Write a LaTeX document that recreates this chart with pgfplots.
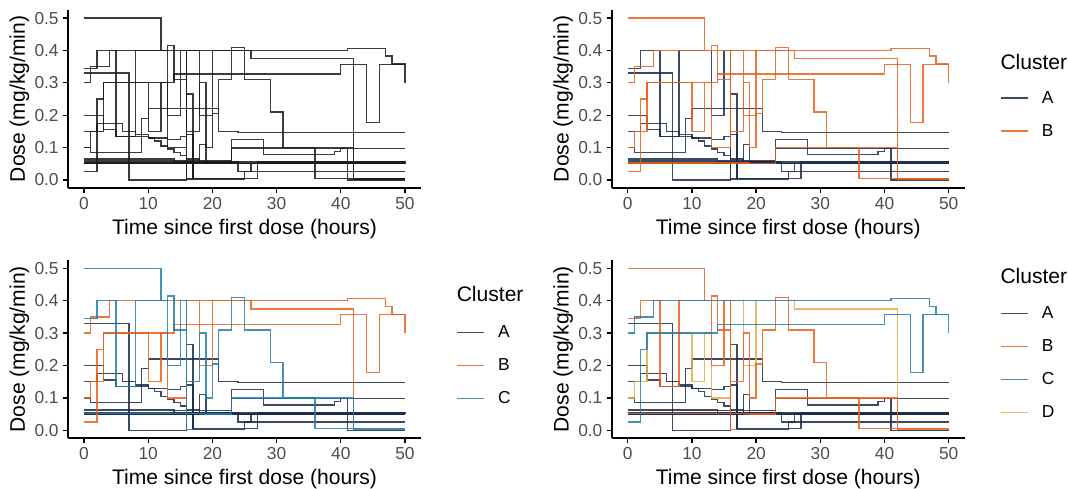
\documentclass[border=0pt]{standalone}
\usepackage{fontspec}
\setmainfont{Liberation Sans}
\usepackage{pgfplots}
\usepackage{pgfplotstable}
\pgfplotsset{compat=1.18}

\definecolor{cA}{RGB}{27,42,72}
\definecolor{cB}{RGB}{232,96,28}
\definecolor{cC}{RGB}{35,125,170}
\definecolor{cD}{RGB}{230,172,70}
\definecolor{cK}{RGB}{25,25,25}
\definecolor{tickgray}{RGB}{77,77,77}

% one table per infusion trajectory (time in hours, dose), step at each time
\pgfplotstableread{
x y
0 0.5
12 0.4
13 0.415
14 0.31
16 0.15
18 0.3
19 0.1
20 0.205
21 0.31
23 0.41
25 0.31
29 0.21
31 0.1
36 0.005
50 0.005
}\tA
\pgfplotstableread{
x y
0 0.3
1 0.35
4 0.4
41 0.407
47 0.383
48 0.358
50 0.3
}\tB
\pgfplotstableread{
x y
0 0.025
2 0.25
3 0.3
14 0.327
40 0.357
44 0.178
46 0.357
50 0.357
}\tC
\pgfplotstableread{
x y
0 0.1
1 0.15
3 0.3
10 0.15
12 0.3
13 0.1
16 0.4
18 0.2
20 0.4
26 0.375
42 0.005
50 0.005
}\tD
\pgfplotstableread{
x y
0 0.345
2 0.4
5 0.135
8 0.4
13 0.2
15 0.4
16 0.003
17 0.003
}\tE
\pgfplotstableread{
x y
0 0.33
7 0.0
16 0.265
17 0.003
25 0.025
50 0.025
}\tF
\pgfplotstableread{
x y
0 0.15
2 0.175
6 0.15
8 0.14
10 0.13
11 0.12
12 0.105
13 0.095
14 0.085
15 0.075
16 0.065
18 0.055
50 0.05
}\tG
\pgfplotstableread{
x y
0 0.2
3 0.155
5 0.135
10 0.13
13 0.125
15 0.135
16 0.14
17 0.005
25 0.005
27 0.055
50 0.055
}\tH
\pgfplotstableread{
x y
0 0.1
1 0.085
9 0.19
10 0.22
21 0.15
24 0.147
50 0.147
}\tI
\pgfplotstableread{
x y
0 0.065
14 0.055
23 0.125
28 0.078
39 0.088
40 0.098
41 0.0
50 0.0
}\tJ
\pgfplotstableread{
x y
0 0.055
24 0.025
26 0.05
50 0.05
}\tK
\pgfplotstableread{
x y
0 0.05
50 0.05
}\tL
\pgfplotstableread{
x y
0 0.06
23 0.098
50 0.098
}\tM
\pgfplotstableread{
x y
0 0.052
19 0.05
23 0.1
41 0.1
42 0.003
50 0.003
}\tN
\pgfplotstableread{
x y
0 0.05
18 0.11
19 0.05
50 0.05
}\tO

\pgfplotsset{
  panel/.style={
    scale only axis, width=264.75pt, height=133.5pt, clip=false,
    xmin=-2.5, xmax=52.5, ymin=-0.025, ymax=0.525,
    axis lines*=left, axis line style={line width=1.3pt, -},
    xtick={0,10,20,30,40,50}, ytick={0,0.1,0.2,0.3,0.4,0.5},
    tick align=outside, major tick length=3.5pt,
    tick style={line width=1pt, black},
    yticklabel style={/pgf/number format/fixed, /pgf/number format/fixed zerofill,
      /pgf/number format/precision=1},
    ticklabel style={font=\fontsize{13}{15}\selectfont, text=tickgray},
    /pgf/number format/assume math mode=true,
    xlabel={Time since first dose (hours)}, ylabel={Dose (mg/kg/min)},
    label style={font=\fontsize{15.8}{18}\selectfont},
    ylabel style={yshift=-3pt},
    legend image code/.code={\draw[#1, line width=1.1pt] (0pt,0pt) -- (20pt,0pt);},
    legend style={draw=none, fill=none, inner sep=0pt, row sep=8.25pt,
      font=\fontsize{13}{15}\selectfont,
      nodes={text height=10pt, text depth=2.5pt, inner sep=2pt},
      /tikz/every odd column/.style={column sep=8pt}},
    legend cell align=left,
  },
  traj/.style={const plot, forget plot, no marks, line width=1pt, opacity=0.85, color=#1},
}

\begin{document}
\begin{tikzpicture}
\useasboundingbox (0,0) rectangle (801pt,366.75pt);

% top left: all trajectories
\begin{axis}[panel, at={(51pt,225.75pt)}, anchor=south west]
\addplot[traj=cK] table {\tA};
\addplot[traj=cK] table {\tB};
\addplot[traj=cK] table {\tC};
\addplot[traj=cK] table {\tD};
\addplot[traj=cK] table {\tE};
\addplot[traj=cK] table {\tF};
\addplot[traj=cK] table {\tG};
\addplot[traj=cK] table {\tH};
\addplot[traj=cK] table {\tI};
\addplot[traj=cK] table {\tJ};
\addplot[traj=cK] table {\tK};
\addplot[traj=cK] table {\tL};
\addplot[traj=cK] table {\tM};
\addplot[traj=cK] table {\tN};
\addplot[traj=cK] table {\tO};
\end{axis}

% top right: two clusters
\begin{axis}[panel, at={(458.8pt,225.75pt)}, anchor=south west,
  legend style={at={(axis description cs:1.10,0.568)}, anchor=north west}]
\addlegendimage{cA, opacity=0.85}\addlegendentry{A}
\addlegendimage{cB, opacity=0.85}\addlegendentry{B}
\addplot[traj=cA] table {\tE};
\addplot[traj=cA] table {\tF};
\addplot[traj=cA] table {\tG};
\addplot[traj=cA] table {\tH};
\addplot[traj=cA] table {\tI};
\addplot[traj=cA] table {\tJ};
\addplot[traj=cA] table {\tK};
\addplot[traj=cA] table {\tL};
\addplot[traj=cA] table {\tM};
\addplot[traj=cA] table {\tO};
\addplot[traj=cB] table {\tA};
\addplot[traj=cB] table {\tB};
\addplot[traj=cB] table {\tC};
\addplot[traj=cB] table {\tD};
\addplot[traj=cB] table {\tN};
\node[anchor=west, font=\fontsize{15.8}{18}\selectfont] at (axis description cs:1.088,0.708) {Cluster};
\end{axis}

% bottom left: three clusters
\begin{axis}[panel, at={(51pt,38pt)}, anchor=south west,
  legend style={at={(axis description cs:1.10,0.659)}, anchor=north west}]
\addlegendimage{cA, opacity=0.85}\addlegendentry{A}
\addlegendimage{cB, opacity=0.85}\addlegendentry{B}
\addlegendimage{cC, opacity=0.85}\addlegendentry{C}
\addplot[traj=cA] table {\tF};
\addplot[traj=cA] table {\tG};
\addplot[traj=cA] table {\tH};
\addplot[traj=cA] table {\tI};
\addplot[traj=cA] table {\tJ};
\addplot[traj=cA] table {\tK};
\addplot[traj=cA] table {\tL};
\addplot[traj=cA] table {\tM};
\addplot[traj=cA] table {\tO};
\addplot[traj=cB] table {\tB};
\addplot[traj=cB] table {\tC};
\addplot[traj=cB] table {\tD};
\addplot[traj=cC] table {\tA};
\addplot[traj=cC] table {\tE};
\addplot[traj=cC] table {\tN};
\node[anchor=west, font=\fontsize{15.8}{18}\selectfont] at (axis description cs:1.088,0.81) {Cluster};
\end{axis}

% bottom right: four clusters
\begin{axis}[panel, at={(458.8pt,38pt)}, anchor=south west,
  legend style={at={(axis description cs:1.10,0.766)}, anchor=north west}]
\addlegendimage{cA, opacity=0.85}\addlegendentry{A}
\addlegendimage{cB, opacity=0.85}\addlegendentry{B}
\addlegendimage{cC, opacity=0.85}\addlegendentry{C}
\addlegendimage{cD, opacity=0.85}\addlegendentry{D}
\addplot[traj=cA] table {\tF};
\addplot[traj=cA] table {\tG};
\addplot[traj=cA] table {\tH};
\addplot[traj=cA] table {\tI};
\addplot[traj=cA] table {\tJ};
\addplot[traj=cA] table {\tK};
\addplot[traj=cA] table {\tL};
\addplot[traj=cA] table {\tM};
\addplot[traj=cA] table {\tO};
\addplot[traj=cD] table {\tD};
\addplot[traj=cB] table {\tA};
\addplot[traj=cB] table {\tE};
\addplot[traj=cB] table {\tN};
\addplot[traj=cC] table {\tB};
\addplot[traj=cC] table {\tC};
\node[anchor=west, font=\fontsize{15.8}{18}\selectfont] at (axis description cs:1.088,0.912) {Cluster};
\end{axis}
\end{tikzpicture}
\end{document}
